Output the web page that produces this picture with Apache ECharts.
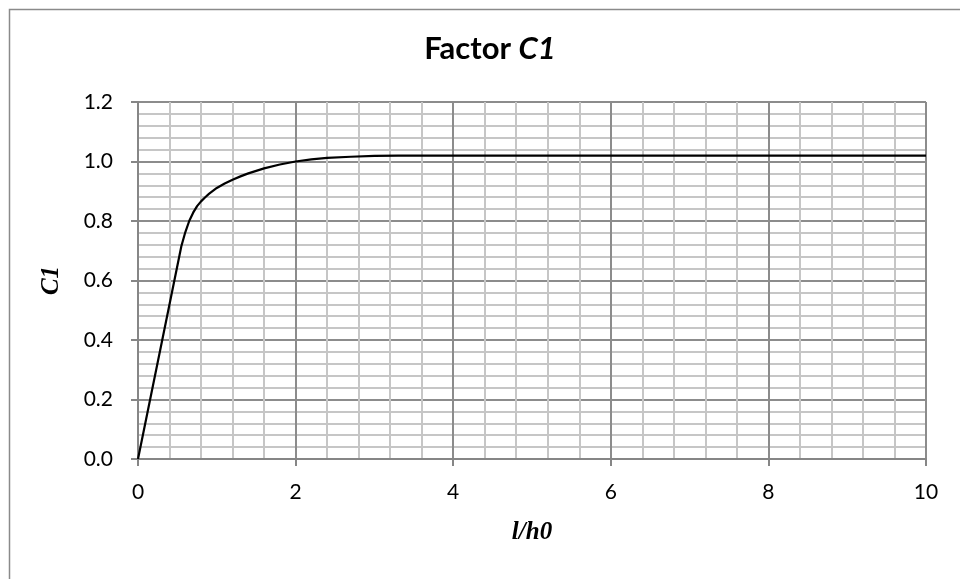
<!DOCTYPE html>
<html><head><meta charset="utf-8">
<script src="https://cdn.jsdelivr.net/npm/echarts@6/dist/echarts.min.js"></script>
<style>html,body{margin:0;padding:0;background:#fff}#c{width:960px;height:579px}</style>
</head><body><div id="c"></div>
<script>
// l/h0 values
const xValues = [0, 0.55, 0.6, 0.65, 0.7, 0.75, 0.8, 0.85, 0.9, 1.0, 1.1, 1.2, 1.3, 1.4, 1.6, 1.8, 2.0, 2.2, 2.4, 2.7, 3.0, 3.3, 4, 5, 6, 7, 8, 9, 10];
// C1 values
const c1Values = [0, 0.715, 0.762, 0.8, 0.828, 0.85, 0.866, 0.879, 0.891, 0.911, 0.926, 0.939, 0.95, 0.96, 0.977, 0.99, 1.0, 1.007, 1.012, 1.016, 1.019, 1.02, 1.02, 1.02, 1.02, 1.02, 1.02, 1.02, 1.02];
const titleMain = 'Factor ';
const titleItalic = 'C1';
const xName = 'l/h0';
const yName = 'C1';

const data = xValues.map((x, i) => [x, c1Values[i]]);
const chart = echarts.init(document.getElementById('c'));
chart.setOption({
  animation: false,
  backgroundColor: '#fff',
  title: {
    text: '{a|' + titleMain + '}{b|' + titleItalic + '}',
    left: 485, top: 28, textAlign: 'center',
    textStyle: {
      rich: {
        a: {fontFamily: 'Lato', fontWeight: 'bold', fontSize: 31, color: '#000'},
        b: {fontFamily: 'Lato', fontWeight: 'bold', fontStyle: 'italic', fontSize: 31, color: '#000'}
      }
    }
  },
  graphic: [{
    type: 'rect', left: 7, top: 7, silent: true, z: -1,
    shape: {width: 1100, height: 1100},
    style: {fill: 'none', stroke: '#8a8a8a', lineWidth: 1.5}
  }],
  grid: {left: 138, right: 34, top: 102, bottom: 120},
  xAxis: {
    type: 'value', min: 0, max: 10, interval: 2,
    name: xName, nameLocation: 'middle', nameGap: 61,
    nameTextStyle: {fontFamily: 'Liberation Serif', fontWeight: 'bold', fontStyle: 'italic', fontSize: 25, color: '#000'},
    axisLine: {show: true, lineStyle: {color: '#868686', width: 2}},
    axisTick: {show: true, length: 7, lineStyle: {color: '#868686', width: 2}},
    axisLabel: {fontFamily: 'Lato', fontSize: 21, color: '#000', margin: 23},
    splitLine: {show: true, lineStyle: {color: '#8c8c8c', width: 2}},
    minorTick: {show: false, splitNumber: 5},
    minorSplitLine: {show: true, lineStyle: {color: '#c6c6c6', width: 2}}
  },
  yAxis: {
    type: 'value', min: 0, max: 1.2, interval: 0.2,
    name: yName, nameLocation: 'middle', nameGap: 74,
    nameTextStyle: {fontFamily: 'Liberation Serif', fontWeight: 'bold', fontStyle: 'italic', fontSize: 25, color: '#000'},
    axisLine: {show: true, lineStyle: {color: '#868686', width: 2}},
    axisTick: {show: true, length: 7, lineStyle: {color: '#868686', width: 2}},
    axisLabel: {fontFamily: 'Lato', fontSize: 21, color: '#000', margin: 25, formatter: v => v.toFixed(1)},
    splitLine: {show: true, lineStyle: {color: '#8c8c8c', width: 2}},
    minorTick: {show: false, splitNumber: 5},
    minorSplitLine: {show: true, lineStyle: {color: '#c6c6c6', width: 2}}
  },
  series: [{
    type: 'line', data: data, showSymbol: false, smooth: false,
    lineStyle: {color: '#000', width: 2.2}, z: 5
  }]
});
</script></body></html>
